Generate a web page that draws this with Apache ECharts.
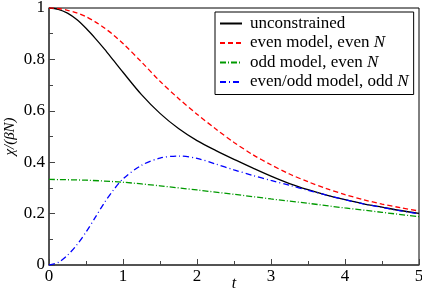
<!DOCTYPE html>
<html><head><meta charset="utf-8">
<script src="https://cdn.jsdelivr.net/npm/echarts@6/dist/echarts.min.js"></script>
<style>html,body{margin:0;padding:0;background:#fff}#c{width:422px;height:296px}</style>
</head><body><div id="c"></div>
<script>
var tFine = [0,0.125,0.25,0.375,0.5,0.625,0.75,0.875,1,1.25,1.5,1.75,2,2.25,2.5,2.75,3,3.25,3.5,3.75,4,4.25,4.5,4.75,5];
var unconstrained = [1.000,0.995,0.980,0.955,0.921,0.882,0.840,0.795,0.750,0.663,0.590,0.531,0.484,0.446,0.411,0.378,0.346,0.317,0.293,0.272,0.254,0.238,0.225,0.212,0.201];
var evenEven = [1.000,0.998,0.991,0.981,0.966,0.946,0.922,0.894,0.862,0.790,0.715,0.648,0.587,0.530,0.477,0.430,0.390,0.354,0.324,0.297,0.274,0.254,0.237,0.223,0.210];
var evenOddOdd = [0.000,0.010,0.038,0.078,0.128,0.185,0.243,0.293,0.335,0.388,0.416,0.424,0.415,0.393,0.370,0.349,0.329,0.310,0.291,0.272,0.254,0.238,0.224,0.211,0.199];
var tCoarse = [0,0.5,1,1.5,2,2.5,3,3.5,4,4.5,5];
var oddEven = [0.333,0.330,0.322,0.308,0.292,0.275,0.257,0.240,0.222,0.205,0.188];
var seriesNames = ['unconstrained','even model, even N','odd model, even N','even/odd model, odd N'];

function pairs(xs, ys){ return xs.map(function(x,i){return [x, ys[i]];}); }

var font = 'Liberation Serif';
var chart = echarts.init(document.getElementById('c'), null, {renderer:'canvas'});
function mk(name, xs, ys, color, type, w){
  return {name:name, type:'line', data:pairs(xs,ys), smooth:0.3, symbol:'none',
    lineStyle:{color:color, width:w, type:type}, itemStyle:{color:color}, z:3};
}
chart.setOption({
  animation:false,
  textStyle:{fontFamily:font},
  grid:{left:49, right:3, top:8, bottom:31, containLabel:false, outerBoundsMode:'none',
    show:true, borderColor:'#000', borderWidth:1},
  legend:{
    orient:'vertical', left:215, top:12, itemWidth:22, itemHeight:14, itemGap:2.5,
    padding:[3,5,4,4], borderColor:'#000', borderWidth:1, backgroundColor:'#fff',
    itemStyle:{opacity:0},
    data:seriesNames,
    formatter:function(n){ return n.replace(/ N$/, ' {i|N}'); },
    textStyle:{fontFamily:font, fontSize:17, color:'#000', padding:[0,0,0,3],
      rich:{i:{fontFamily:font, fontSize:17, fontStyle:'italic', color:'#000'}}}
  },
  xAxis:{type:'value', min:0, max:5, interval:1,
    name:'t', nameLocation:'middle', nameGap:11, nameMoveOverlap:false,
    nameTextStyle:{fontFamily:font, fontSize:16, fontStyle:'italic', color:'#000'},
    axisLine:{show:true, onZero:false, lineStyle:{color:'#444', width:1.5}},
    axisTick:{show:true, inside:true, length:6, lineStyle:{color:'#444', width:1}},
    minorTick:{show:true, splitNumber:2, length:4, lineStyle:{color:'#444', width:1}},
    splitLine:{show:false},
    axisLabel:{fontFamily:font, fontSize:17, color:'#000', margin:3}
  },
  yAxis:{type:'value', min:0, max:1, interval:0.2,
    name:'χ/(βN)', nameLocation:'middle', nameGap:31, nameMoveOverlap:false,
    nameTextStyle:{fontFamily:font, fontSize:15, fontStyle:'italic', color:'#000'},
    axisLine:{show:true, onZero:false, lineStyle:{color:'#444', width:1.5}},
    axisTick:{show:true, inside:true, length:6, lineStyle:{color:'#444', width:1}},
    minorTick:{show:true, splitNumber:2, length:4, lineStyle:{color:'#444', width:1}},
    splitLine:{show:false},
    axisLabel:{fontFamily:font, fontSize:17, color:'#000', margin:4}
  },
  series:[
    mk(seriesNames[0], tFine, unconstrained, '#000000', 'solid', 1.3),
    mk(seriesNames[1], tFine, evenEven, '#ff0000', [5,3], 1.3),
    mk(seriesNames[2], tCoarse, oddEven, '#009a00', [6,2,1,2], 1.3),
    mk(seriesNames[3], tFine, evenOddOdd, '#0000ff', [6,3,1,3], 1.3)
  ]
});
</script></body></html>
